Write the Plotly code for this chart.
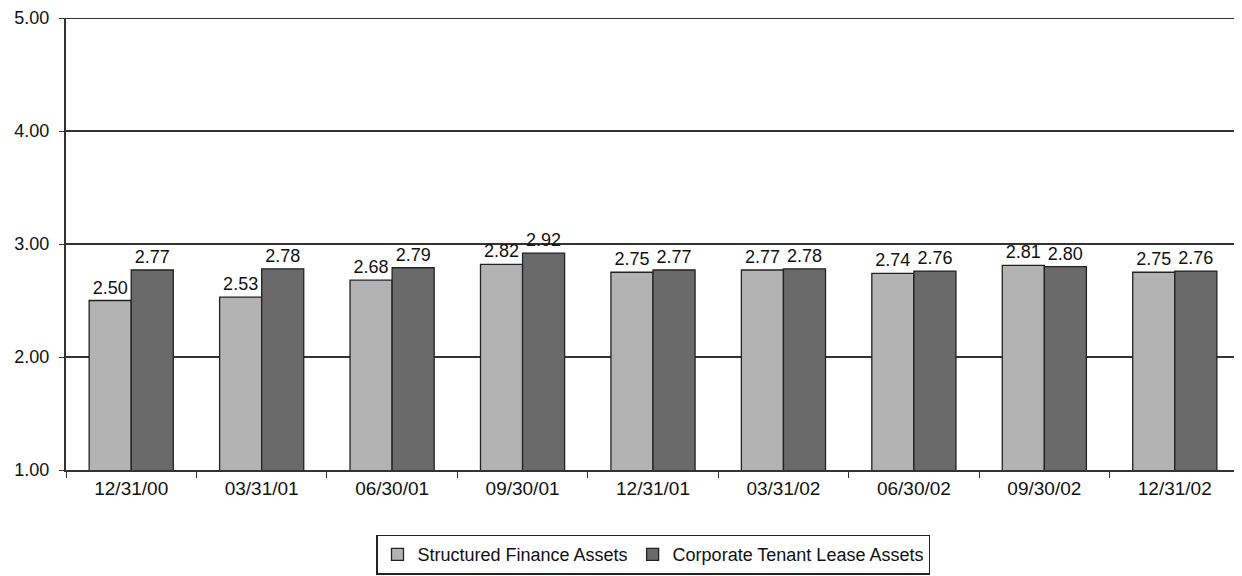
import plotly.graph_objects as go

categories = ["12/31/00", "03/31/01", "06/30/01", "09/30/01", "12/31/01",
              "03/31/02", "06/30/02", "09/30/02", "12/31/02"]
structured = [2.50, 2.53, 2.68, 2.82, 2.75, 2.77, 2.74, 2.81, 2.75]
corporate = [2.77, 2.78, 2.79, 2.92, 2.77, 2.78, 2.76, 2.80, 2.76]
y_ticks = [1.0, 2.0, 3.0, 4.0, 5.0]

font = "Liberation Sans, Arial, sans-serif"

fig = go.Figure()
fig.add_bar(x=categories, y=structured, name="Structured Finance Assets",
            marker=dict(color="#b3b3b3", line=dict(color="#222222", width=1.3)),
            texttemplate="%{y:.2f}", textposition="outside",
            textfont=dict(size=18, color="#111111"), cliponaxis=False)
fig.add_bar(x=categories, y=corporate, name="Corporate Tenant Lease Assets",
            marker=dict(color="#6a6a6a", line=dict(color="#222222", width=1.3)),
            texttemplate="%{y:.2f}", textposition="outside",
            textfont=dict(size=18, color="#111111"), cliponaxis=False)

fig.add_shape(type="line", xref="paper", yref="y", x0=0, x1=1,
              y0=y_ticks[-1], y1=y_ticks[-1],
              line=dict(color="#333333", width=2))

fig.update_layout(
    width=1242, height=576,
    margin=dict(l=58, r=10, t=10, b=114, autoexpand=False),
    paper_bgcolor="white", plot_bgcolor="white",
    font=dict(family=font, size=18, color="#111111"),
    barmode="group", bargap=0.355, bargroupgap=0,
    showlegend=True,
    legend=dict(orientation="h", x=0.5, xanchor="center", y=-0.143, yanchor="top",
                bordercolor="#222222", borderwidth=1.5, font=dict(size=18),
                traceorder="normal", itemwidth=30,
                tracegroupgap=0),
    uniformtext=dict(mode=False),
)
fig.update_xaxes(showline=True, linecolor="#333333", linewidth=2,
                 ticks="outside", ticklen=6, tickcolor="#333333",
                 tickson="boundaries", showgrid=False, automargin=False,
                 tickfont=dict(size=19))
fig.update_yaxes(range=[1, 5], tickvals=y_ticks, tickformat=".2f",
                 showline=True, linecolor="#333333", linewidth=2,
                 ticks="outside", ticklen=5, tickcolor="#333333",
                 ticklabelstandoff=6,
                 showgrid=True, gridcolor="#333333", gridwidth=2,
                 zeroline=False, automargin=False, tickfont=dict(size=18))

fig.write_html("out.html")
